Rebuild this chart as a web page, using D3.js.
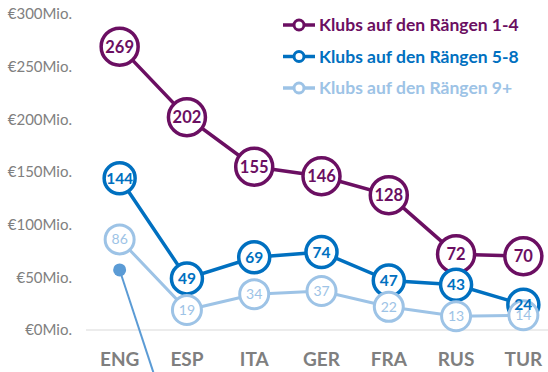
<!DOCTYPE html>
<html>
<head>
<meta charset="utf-8">
<script src="https://cdn.jsdelivr.net/npm/d3@7"></script>
<style>
  html, body { margin: 0; padding: 0; background: #fff; }
  svg { display: block; font-family: Lato, "Open Sans", sans-serif; }
</style>
</head>
<body>
<svg id="chart" width="548" height="372"></svg>
<script>
// Countries along the x axis
const countries = ["ENG", "ESP", "ITA", "GER", "FRA", "RUS", "TUR"];

// Spending per league-position group (€ Mio.)
const ranks1to4 = [269, 202, 155, 146, 128, 72, 70];
const ranks5to8 = [144, 49, 69, 74, 47, 43, 24];
const ranks9plus = [86, 19, 34, 37, 22, 13, 14];

// Y axis ticks
const yTicks = [0, 50, 100, 150, 200, 250, 300];

// Stray pointer marker near ENG (value, and where its leader line ends)
const pointerValue = 57;
const pointerEndValue = -40;

const seriesNames = [
  "Klubs auf den Rängen 1-4",
  "Klubs auf den Rängen 5-8",
  "Klubs auf den Rängen 9+"
];

const series = [
  { name: seriesNames[0], values: ranks1to4, color: "#6B0F62", r: 18.5, sw: 3.5, font: 16.5, weight: 700 },
  { name: seriesNames[1], values: ranks5to8, color: "#0070C0", r: 15.5, sw: 3.5, font: 15.5, weight: 700 },
  { name: seriesNames[2], values: ranks9plus, color: "#9DC3E6", r: 14.5, sw: 3, font: 14, weight: 400 }
];

const svg = d3.select("#chart");

const x = d3.scaleBand().domain(countries).range([86, 557]).paddingInner(0).paddingOuter(0);
const cx = c => x(c) + x.bandwidth() / 2;
const y = d3.scaleLinear().domain([0, 300]).range([330, 14]);

// Baseline
svg.append("line")
  .attr("x1", 86).attr("x2", 548)
  .attr("y1", y(0)).attr("y2", y(0))
  .attr("stroke", "#d9d9d9").attr("stroke-width", 1);

// Y axis labels
const yAxis = d3.axisLeft(y).tickValues(yTicks).tickSize(0).tickPadding(0)
  .tickFormat(d => "€" + d + "Mio.");
const gy = svg.append("g").attr("transform", "translate(72,0)").call(yAxis);
gy.select(".domain").remove();
gy.selectAll("text")
  .attr("fill", "#808080")
  .style("font-family", "Lato, 'Open Sans', sans-serif")
  .style("font-size", "15px");

// X axis labels
const xAxis = d3.axisBottom(x).tickSize(0).tickPadding(0);
const gx = svg.append("g").attr("transform", "translate(0,366)").call(xAxis);
gx.select(".domain").remove();
gx.selectAll("text")
  .attr("dy", 0)
  .attr("fill", "#7f7f7f")
  .style("font-family", "Lato, 'Open Sans', sans-serif")
  .style("font-size", "19px")
  .style("font-weight", "700");

// Pointer marker with leader line
svg.append("line")
  .attr("x1", cx("ENG")).attr("y1", y(pointerValue))
  .attr("x2", x("ENG") + x.bandwidth()).attr("y2", y(pointerEndValue))
  .attr("stroke", "#5B9BD5").attr("stroke-width", 2);
svg.append("circle")
  .attr("cx", cx("ENG")).attr("cy", y(pointerValue)).attr("r", 6.5)
  .attr("fill", "#5B9BD5");

// Lines and markers
const line = d3.line().x((d, i) => cx(countries[i])).y(d => y(d));
series.forEach(s => {
  const g = svg.append("g");
  g.append("path")
    .datum(s.values)
    .attr("d", line)
    .attr("fill", "none")
    .attr("stroke", s.color)
    .attr("stroke-width", s.sw);
  g.selectAll("circle")
    .data(s.values)
    .join("circle")
    .attr("cx", (d, i) => cx(countries[i]))
    .attr("cy", d => y(d))
    .attr("r", s.r)
    .attr("fill", "#fff")
    .attr("stroke", s.color)
    .attr("stroke-width", s.sw);
});

// Value labels on top of all markers
series.forEach(s => {
  svg.append("g").selectAll("text")
    .data(s.values)
    .join("text")
    .attr("x", (d, i) => cx(countries[i]))
    .attr("y", d => y(d))
    .attr("dy", "0.36em")
    .attr("text-anchor", "middle")
    .attr("fill", s.color)
    .style("font-size", s.font + "px")
    .style("font-weight", s.weight)
    .text(d => d);
});

// Legend
const legend = svg.append("g");
series.forEach((s, i) => {
  const ly = 25 + i * 31.5;
  const row = legend.append("g").attr("transform", `translate(0,${ly})`);
  row.append("line")
    .attr("x1", 283).attr("x2", 315).attr("y1", 0).attr("y2", 0)
    .attr("stroke", s.color).attr("stroke-width", 3.5);
  row.append("circle")
    .attr("cx", 299).attr("cy", 0).attr("r", 5)
    .attr("fill", "#fff").attr("stroke", s.color).attr("stroke-width", 3);
  row.append("text")
    .attr("x", 319).attr("y", 0).attr("dy", "0.36em")
    .attr("fill", s.color)
    .style("font-size", "17.5px")
    .style("font-weight", "700")
    .text(s.name);
});
</script>
</body>
</html>
